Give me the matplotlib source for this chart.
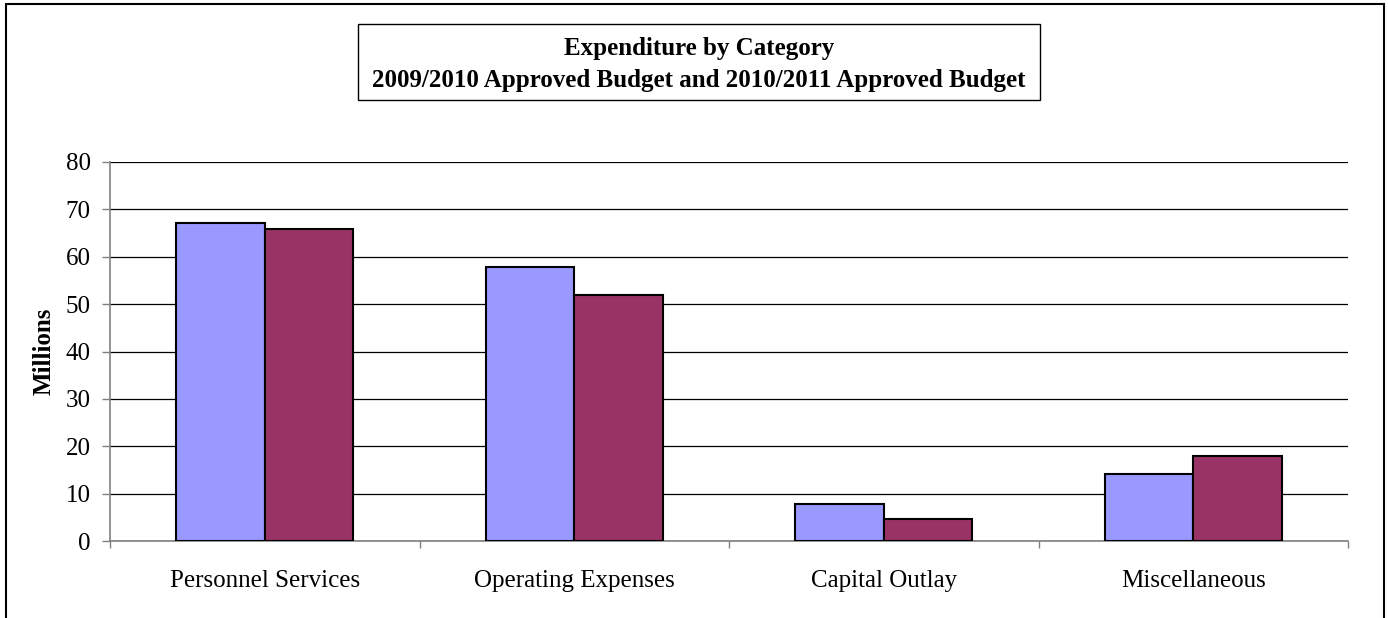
import numpy as np
import matplotlib.pyplot as plt
from matplotlib.patches import Rectangle

# Datos del grafico (millones)
categorias = ['Personnel Services', 'Operating Expenses', 'Capital Outlay', 'Miscellaneous']
pres_2009 = [67.1, 57.9, 7.8, 14.1]
pres_2010 = [65.8, 51.9, 4.7, 18.0]
yticks = [0, 10, 20, 30, 40, 50, 60, 70, 80]

plt.rcParams['font.family'] = ['Liberation Serif', 'DejaVu Serif']

fig = plt.figure(figsize=(13.88, 6.18), dpi=100)
W, H = 1388, 618

# Marco exterior de la figura
fig.patches.append(Rectangle((6/W, -0.05), 1378/W, 1.05 - 4/H, transform=fig.transFigure,
                             fill=False, edgecolor='black', linewidth=1.5))

ax = fig.add_axes([110/W, (H-541)/H, 1238/W, 379/H])

x = np.arange(len(categorias))
ancho = 0.286
ax.bar(x - ancho/2, pres_2009, ancho, color='#9999FF', edgecolor='black', linewidth=1.5, zorder=3)
ax.bar(x + ancho/2, pres_2010, ancho, color='#993366', edgecolor='black', linewidth=1.5, zorder=3)

ax.set_xlim(-0.5, len(categorias) - 0.5)
ax.set_ylim(0, 80)
ax.set_yticks(yticks)
ax.tick_params(axis='y', length=6, width=1, color='#808080', labelsize=18, pad=8)
ax.yaxis.grid(True, color='black', linewidth=0.9, zorder=0)

# Marcas entre categorias en el eje x
ax.set_xticks(np.arange(-0.5, len(categorias), 1.0))
ax.set_xticklabels([])
ax.set_xticks(x, minor=True)
ax.set_xticklabels(categorias, minor=True, fontsize=18)
ax.tick_params(axis='x', which='major', length=5, width=1, color='#808080')
ax.tick_params(axis='x', which='minor', length=0, pad=21)

for lado in ['top', 'right']:
    ax.spines[lado].set_visible(False)
for lado in ['left', 'bottom']:
    ax.spines[lado].set_color('#808080')
    ax.spines[lado].set_linewidth(1.2)

ax.set_ylabel('Millions', fontsize=18, fontweight='bold', labelpad=7)

# Titulo dentro de un recuadro
fig.patches.append(Rectangle((358/W, 1 - 100/H), 682/W, 76/H, transform=fig.transFigure,
                             facecolor='white', edgecolor='black', linewidth=1))
fig.text(699/W, 1 - 48/H, 'Expenditure by Category',
         ha='center', va='center', fontsize=18, fontweight='bold')
fig.text(699/W, 1 - 80/H, '2009/2010 Approved Budget and 2010/2011 Approved Budget',
         ha='center', va='center', fontsize=18, fontweight='bold')

plt.savefig('out.png', dpi=100)
